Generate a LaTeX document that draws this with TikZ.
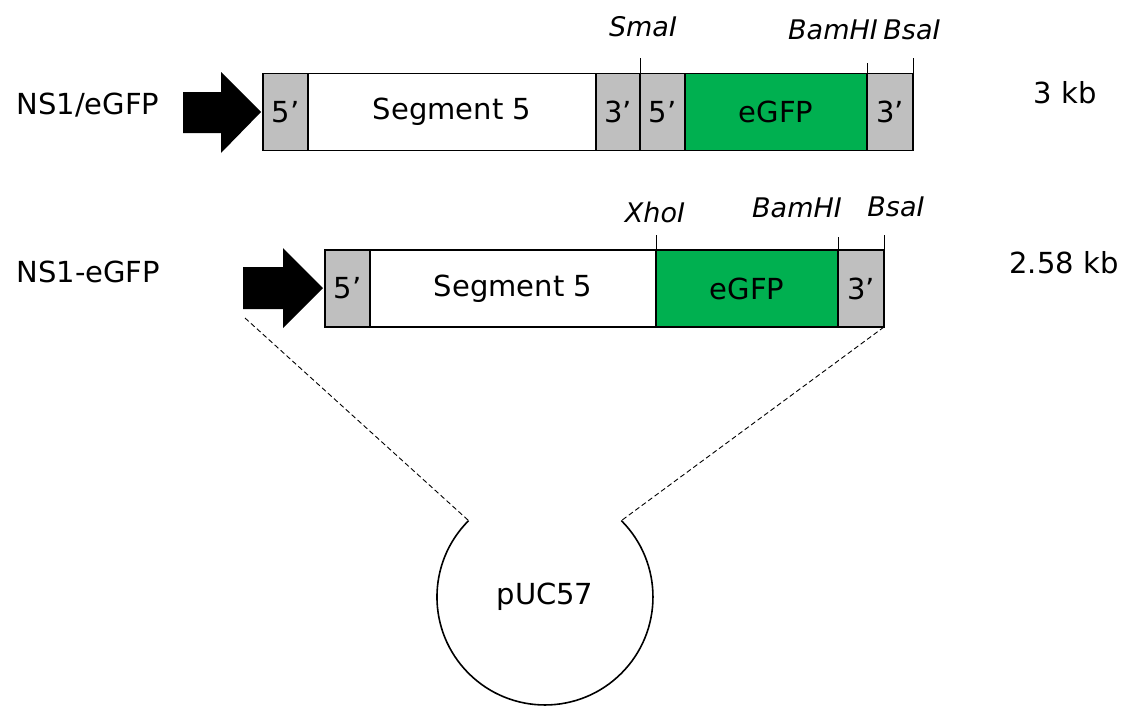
\documentclass[tikz,border=0pt]{standalone}
\usepackage{fontspec}
\setmainfont{DejaVu Sans}
\usetikzlibrary{positioning}
\definecolor{utrgray}{RGB}{191,191,191}
\definecolor{gfpgreen}{RGB}{0,176,80}

\begin{document}
\begin{tikzpicture}[x=1pt, y=-1pt, every node/.style={font=\fontsize{29}{34}\selectfont},
    seg/.style={draw, line width=1.4pt, minimum height=77pt, inner sep=0pt, outer sep=0pt},
    utr/.style={seg, fill=utrgray, minimum width=45pt},
    site/.style={font=\fontsize{27}{32}\selectfont\itshape},
    gap/.style={dash pattern=on 5pt off 3pt, line width=0.9pt}]
      \useasboundingbox (0,0) rectangle (1128,707);
      % NS1/eGFP
      \node[anchor=west] (lab1) at (13,105) {NS1/eGFP};
      \fill (183,92) -- (221,92) -- (221,72) -- (261,112) -- (221,153) -- (221,133) -- (183,133) -- cycle;
      \node[utr, anchor=west] (a5) at (263,112) {5’};
      \node[seg, minimum width=288pt, right=0pt of a5] (aseg) {Segment 5};
      \node[utr, minimum width=44pt, right=0pt of aseg] (a3) {3’};
      \node[utr, right=0pt of a3] (b5) {5’};
      \node[seg, fill=gfpgreen, minimum width=182pt, right=0pt of b5] (agfp) {eGFP};
      \node[utr, minimum width=46pt, right=0pt of agfp] (b3) {3’};
      \node[site] (smai) at (643,27) {SmaI};
      \node[site] (bam1) at (833,30) {BamHI};
      \node[site] (bsa1) at (912,30) {BsaI};
      \foreach \n/\h in {a3/16, agfp/11, b3/16}
        \draw[line width=0.8pt] (\n.north east) -- ++(0,-\h);
      \node (kb1) at (1065,93) {3 kb};
      % NS1-eGFP
      \node[anchor=west] (lab2) at (13,272) {NS1-eGFP};
      \fill (243,267) -- (283,267) -- (283,248) -- (323,288) -- (283,328) -- (283,309) -- (243,309) -- cycle;
      \node[utr, anchor=west] (c5) at (325,288.5) {5’};
      \node[seg, minimum width=286pt, right=0pt of c5] (cseg) {Segment 5};
      \node[seg, fill=gfpgreen, minimum width=182pt, right=0pt of cseg] (cgfp) {eGFP};
      \node[utr, minimum width=46pt, right=0pt of cgfp] (c3) {3’};
      \node[site] (xhoi) at (655,212) {XhoI};
      \node[site] (bam2) at (797,208) {BamHI};
      \node[site] (bsa2) at (896,207) {BsaI};
      \foreach \n/\h in {cseg/15, cgfp/13, c3/15}
        \draw[line width=0.8pt] (\n.north east) -- ++(0,-\h);
      \node (kb2) at (1064,263) {2.58 kb};
      % pUC57
      \coordinate (p1) at (245,318);
      \coordinate (gl) at (468.6,520.6);
      \coordinate (gr) at (621.4,520.6);
      \draw[gap] (p1) -- (gl);
      \draw[gap] (c3.south east) -- (gr);
      \draw[line width=1.6pt] (gl) arc[start angle=-135, end angle=-405, radius=108];
      \node (puc) at (545,597) {pUC57};
    \end{tikzpicture}
\end{document}
